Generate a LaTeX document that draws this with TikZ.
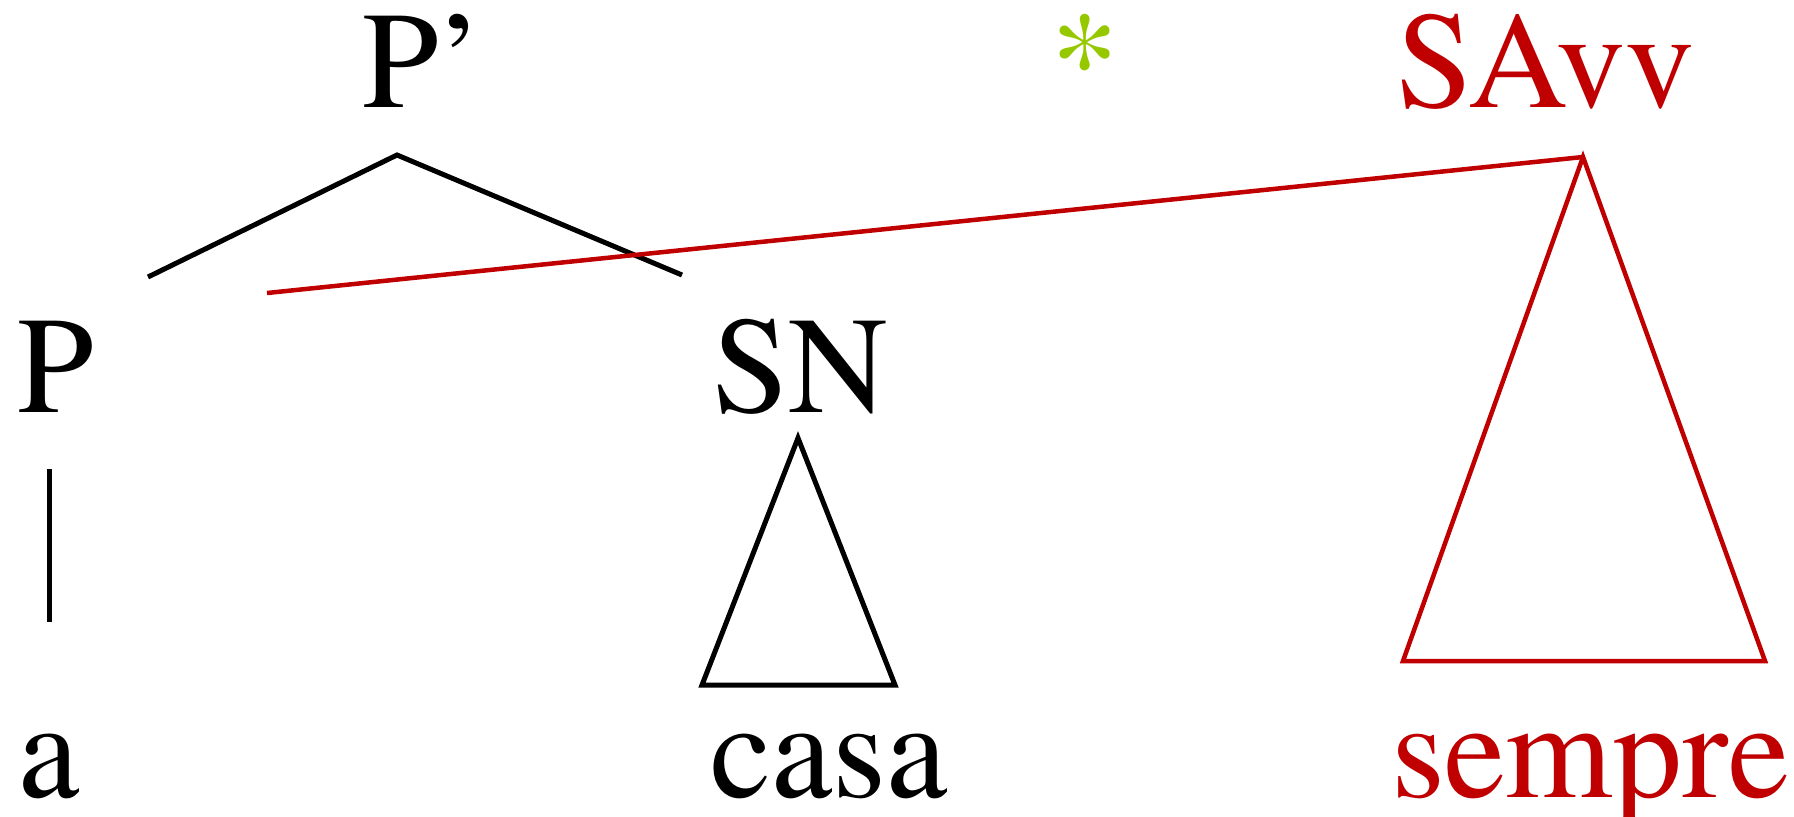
\documentclass[tikz,border=0pt]{standalone}
\usepackage{fontspec}
\setmainfont{texgyretermes}[Extension=.otf,UprightFont=*-regular]
\usepackage{xcolor}
\usepackage{tikz}
\definecolor{avvred}{RGB}{192,0,0}
\definecolor{stargreen}{RGB}{150,200,0}

\begin{document}
\begin{tikzpicture}[x=0.1pt,y=-0.1pt,
  every node/.style={font=\fontsize{13.8}{16}\selectfont,inner sep=0pt,anchor=base west},
  branch/.style={line width=0.5pt,line join=miter},
  redbranch/.style={draw=avvred,line width=0.45pt,line join=miter}]
  \useasboundingbox (0,0) rectangle (1794,816);
  % labels
  \node (pbar) at (360,107) {P’};
  \node[text=stargreen,anchor=base] (star) at (1085,107) {*};
  \node[text=avvred] (savv) at (1394,107) {SAvv};
  \node (p) at (16,412) {P};
  \node (sn) at (710,412) {SN};
  \node (a) at (17,797) {a};
  \node (casa) at (708,797) {casa};
  \node[text=avvred] (sempre) at (1389,797) {sempre};
  % branch ends
  \coordinate (pbar-top) at (397,155);
  \coordinate (p-end) at (148,277);
  \coordinate (sn-end) at (682,275);
  \coordinate (sn-top) at (798,438);
  \coordinate (savv-top) at (1583,157);
  \coordinate (move-end) at (267,293);
  \draw[branch] (p-end) -- (pbar-top) -- (sn-end);
  \draw[branch] ([shift={(-7,55)}]p.south) coordinate (p-stem) -- ([yshift=11pt]p-stem |- a.north);
  \draw[branch] (sn-top) -- ++(-96,247) -- ++(193,0) -- cycle;
  \draw[redbranch] (savv-top) -- ++(-180,504) -- ++(362,0) -- cycle;
  \draw[redbranch] (move-end) -- (savv-top);
\end{tikzpicture}
\end{document}
